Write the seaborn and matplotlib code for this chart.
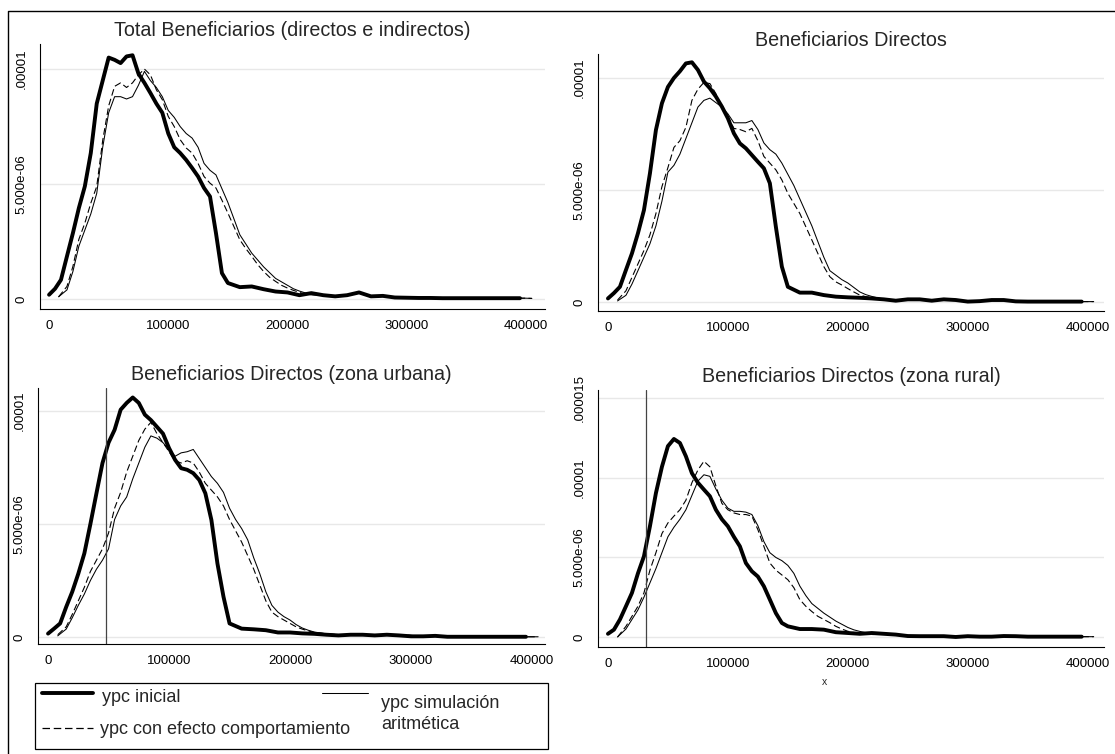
import numpy as np
import pandas as pd
import matplotlib
matplotlib.use("Agg")
import matplotlib.pyplot as plt
from matplotlib.lines import Line2D
from matplotlib.patches import Rectangle
import seaborn as sns

# ---------------- data (densities in units of 1e-6) ----------------
SCALE = 1e-6
X_INI = list(range(0, 150001, 5000)) + list(range(160000, 390001, 10000)) + [395000]
X_SIM = [8000] + list(range(15000, 220001, 5000)) + list(range(230000, 400001, 10000)) + [405000]

TITLES = ["Total Beneficiarios (directos e indirectos)",
          "Beneficiarios Directos",
          "Beneficiarios Directos (zona urbana)",
          "Beneficiarios Directos (zona rural)"]

# Panel 1: Total beneficiarios
p1_inicial = [0.19, 0.45, 0.84, 1.86, 2.87, 3.96, 4.9, 6.35, 8.5, 9.5, 10.5, 10.4, 10.26, 10.55, 10.6,
              9.8, 9.4, 8.96, 8.5, 8.1, 7.2, 6.6, 6.35, 6.05, 5.7, 5.33, 4.83, 4.46, 2.87, 1.13, 0.7,
              0.52, 0.55, 0.43, 0.33, 0.29, 0.17, 0.26, 0.17, 0.12, 0.17, 0.29, 0.12, 0.14, 0.07, 0.06,
              0.05, 0.05, 0.04, 0.04, 0.04, 0.04, 0.04, 0.04, 0.04, 0.04]
p1_comport = [0.1,
              0.55, 1.42, 2.6, 3.3, 4.17, 4.9, 6.9, 8.4, 9.25, 9.4, 9.2, 9.4, 9.75, 10.0, 9.75, 9.1, 8.67,
              7.94, 7.5, 6.93, 6.57, 6.35, 5.9, 5.33, 5.04, 4.83, 4.3, 3.74, 3.16, 2.58, 2.2, 1.86, 1.5,
              1.2, 0.95, 0.77, 0.6, 0.48, 0.38, 0.29, 0.22, 0.19,
              0.17, 0.12, 0.17, 0.29, 0.12, 0.14, 0.07, 0.06, 0.05, 0.05, 0.04, 0.04, 0.04, 0.04, 0.04,
              0.04, 0.04, 0.04, 0.03]
p1_simul = [0.1,
            0.4, 1.2, 2.3, 3.0, 3.7, 4.6, 6.6, 8.1, 8.8, 8.8, 8.7, 8.8, 9.3, 9.9, 9.5, 9.2, 8.8, 8.2,
            7.9, 7.5, 7.2, 7.0, 6.6, 5.9, 5.6, 5.4, 4.8, 4.2, 3.5, 2.8, 2.4, 2.0, 1.7, 1.4, 1.15, 0.9,
            0.75, 0.6, 0.45, 0.35, 0.27, 0.2,
            0.17, 0.12, 0.17, 0.29, 0.12, 0.14, 0.07, 0.06, 0.05, 0.05, 0.04, 0.04, 0.04, 0.04, 0.04,
            0.04, 0.04, 0.04, 0.03]

# Panel 2: Beneficiarios directos
p2_inicial = [0.16, 0.4, 0.68, 1.43, 2.17, 3.07, 4.1, 5.74, 7.68, 8.87, 9.6, 10.0, 10.3, 10.65, 10.7,
              10.36, 9.84, 9.54, 9.17, 8.72, 8.2, 7.53, 7.08, 6.86, 6.56, 6.26, 5.97, 5.3, 3.36, 1.58,
              0.68,
              0.42, 0.42, 0.31, 0.24, 0.21, 0.19, 0.16, 0.12, 0.06, 0.12, 0.12, 0.06, 0.12, 0.09, 0.02,
              0.04, 0.09, 0.09, 0.03, 0.02, 0.02, 0.02, 0.02, 0.02, 0.02]
p2_comport = [0.09,
              0.5, 1.1, 1.7, 2.3, 3.0, 3.95, 5.15, 6.0, 6.9, 7.2, 7.8, 9.0, 9.5, 9.8, 9.75, 9.3, 8.7,
              8.3, 7.75, 7.7, 7.6, 7.75, 7.2, 6.5, 6.2, 5.9, 5.45, 4.85, 4.4, 3.95, 3.36, 2.77, 2.17,
              1.58, 1.13, 0.9, 0.76, 0.6, 0.45, 0.31, 0.24, 0.19,
              0.12, 0.06, 0.12, 0.12, 0.06, 0.12, 0.09, 0.02, 0.04, 0.09, 0.09, 0.03, 0.02, 0.02, 0.02,
              0.02, 0.02, 0.02, 0.02]
p2_simul = [0.05,
            0.3, 0.8, 1.4, 2.0, 2.6, 3.4, 4.5, 5.8, 6.1, 6.6, 7.3, 8.0, 8.7, 9.0, 9.1, 8.9, 8.7, 8.4,
            8.0, 8.0, 8.0, 8.1, 7.7, 7.1, 6.8, 6.6, 6.2, 5.7, 5.2, 4.6, 4.0, 3.4, 2.7, 2.0, 1.4, 1.2,
            1.0, 0.85, 0.65, 0.45, 0.33, 0.25,
            0.12, 0.06, 0.12, 0.12, 0.06, 0.12, 0.09, 0.02, 0.04, 0.09, 0.09, 0.03, 0.02, 0.02, 0.02,
            0.02, 0.02, 0.02, 0.02]

# Panel 3: zona urbana
p3_inicial = [0.15, 0.37, 0.6, 1.33, 2.0, 2.8, 3.7, 5.0, 6.36, 7.7, 8.6, 9.17, 10.06, 10.36, 10.6,
              10.36, 9.84, 9.6, 9.3, 9.0, 8.36, 7.84, 7.47, 7.4, 7.25, 6.95, 6.36, 5.18, 3.25, 1.78, 0.6,
              0.37, 0.34, 0.3, 0.2, 0.2, 0.16, 0.14, 0.1, 0.07, 0.1, 0.1, 0.07, 0.1, 0.07, 0.03, 0.03,
              0.05, 0.01, 0.01, 0.01, 0.01, 0.01, 0.01, 0.01, 0.01]
p3_comport = [0.1,
              0.45, 1.0, 1.6, 2.2, 2.9, 3.4, 3.9, 4.6, 5.7, 6.4, 7.3, 8.0, 8.7, 9.2, 9.5, 9.0, 8.6, 8.2,
              7.8, 7.7, 7.8, 7.7, 7.3, 6.8, 6.5, 6.2, 5.8, 5.2, 4.7, 4.2, 3.6, 3.0, 2.3, 1.6, 1.1, 0.9,
              0.75, 0.6, 0.45, 0.35, 0.27, 0.2,
              0.14, 0.1, 0.07, 0.1, 0.1, 0.07, 0.1, 0.07, 0.03, 0.03, 0.05, 0.01, 0.01, 0.01, 0.01,
              0.01, 0.01, 0.01, 0.01]
p3_simul = [0.05,
            0.35, 0.85, 1.4, 1.9, 2.5, 3.0, 3.4, 3.9, 5.2, 5.8, 6.2, 7.0, 7.7, 8.4, 8.9, 8.8, 8.6, 8.3,
            8.0, 8.15, 8.2, 8.3, 7.9, 7.5, 7.1, 6.8, 6.4, 5.7, 5.2, 4.8, 4.3, 3.5, 2.8, 2.0, 1.4, 1.1,
            0.9, 0.75, 0.55, 0.4, 0.3, 0.22,
            0.14, 0.1, 0.07, 0.1, 0.1, 0.07, 0.1, 0.07, 0.03, 0.03, 0.05, 0.01, 0.01, 0.01, 0.01,
            0.01, 0.01, 0.01, 0.01]

# Panel 4: zona rural
p4_inicial = [0.2, 0.46, 1.1, 1.93, 2.77, 4.0, 5.07, 6.96, 9.05, 10.7, 12.0, 12.45, 12.2, 11.36, 10.3,
              9.7, 9.27, 8.85, 8.0, 7.4, 6.96, 6.3, 5.7, 4.65, 4.13, 3.8, 3.19, 2.35, 1.5, 0.88, 0.67,
              0.5, 0.5, 0.46, 0.3, 0.25, 0.2, 0.25, 0.2, 0.15, 0.06, 0.05, 0.05, 0.05, 0.0, 0.05, 0.02,
              0.02, 0.06, 0.05, 0.02, 0.02, 0.02, 0.02, 0.02, 0.02]
p4_comport = [0.0,
              0.67, 1.3, 1.93, 2.77, 4.2, 5.3, 6.5, 7.17, 7.6, 8.0, 8.6, 9.7, 10.5, 11.05, 10.7, 9.5,
              8.4, 8.0, 7.8, 7.7, 7.7, 7.6, 6.75, 5.7, 4.65, 4.2, 3.9, 3.6, 3.1, 2.35, 1.93, 1.6, 1.3,
              1.1, 0.9, 0.67, 0.5, 0.36, 0.28, 0.2, 0.17, 0.15,
              0.2, 0.15, 0.06, 0.05, 0.05, 0.05, 0.0, 0.05, 0.02, 0.02, 0.06, 0.05, 0.02, 0.02, 0.02,
              0.02, 0.02, 0.02, 0.02]
p4_simul = [0.0,
            0.5, 1.1, 1.7, 2.5, 3.4, 4.3, 5.3, 6.3, 6.9, 7.4, 8.0, 8.9, 9.8, 10.2, 10.1, 9.3, 8.6, 8.1,
            7.9, 7.9, 7.85, 7.7, 7.0, 6.0, 5.3, 5.0, 4.8, 4.5, 4.0, 3.2, 2.6, 2.1, 1.8, 1.5, 1.25, 1.0,
            0.8, 0.6, 0.45, 0.35, 0.27, 0.2,
            0.2, 0.15, 0.06, 0.05, 0.05, 0.05, 0.0, 0.05, 0.02, 0.02, 0.06, 0.05, 0.02, 0.02, 0.02,
            0.02, 0.02, 0.02, 0.02]

VLINES = [None, None, 48000, 32000]
X_TICKS = [0, 100000, 200000, 300000, 400000]
X_TICKLABELS = ["0", "100000", "200000", "300000", "400000"]
Y_TICKS = [0, 5e-6, 1e-5]
Y_TICKLABELS = ["0", "5.000e-06", ".00001"]
Y_TICKS_RURAL = [0, 5e-6, 1e-5, 1.5e-5]
Y_TICKLABELS_RURAL = ["0", "5.000e-06", ".00001", ".000015"]

LABEL_INI = "ypc inicial"
LABEL_COMP = "ypc con efecto comportamiento"
LABEL_SIM = "ypc simulación\naritmética"

# ---------------- style ----------------
sns.set_style("white")
plt.rcParams['font.family'] = ['Liberation Sans', 'DejaVu Sans']

W, H = 1115, 754
fig = plt.figure(figsize=(W / 100, H / 100), dpi=100)


def rect(l, r, t, b):
    return [l / W, 1 - b / H, (r - l) / W, (b - t) / H]


axes_rects = [rect(40, 545, 44, 309), rect(598, 1104, 54, 311),
              rect(38, 545, 388, 644), rect(598, 1104, 390, 647)]
xlims = [(-7600, 416000), (-8300, 413600), (-8300, 410700), (-8300, 413600)]
ylims = [(-0.43e-6, 1.109e-5), (-0.40e-6, 1.107e-5), (-0.31e-6, 1.102e-5), (-0.63e-6, 1.553e-5)]

series = [(p1_inicial, p1_comport, p1_simul), (p2_inicial, p2_comport, p2_simul),
          (p3_inicial, p3_comport, p3_simul), (p4_inicial, p4_comport, p4_simul)]

DASH = (0, (6, 3))

for i in range(4):
    ax = fig.add_axes(axes_rects[i])
    ini, comp, sim = series[i]
    d_ini = pd.DataFrame({"x": X_INI, "y": np.array(ini) * SCALE})
    d_comp = pd.DataFrame({"x": X_SIM, "y": np.array(comp) * SCALE})
    d_sim = pd.DataFrame({"x": X_SIM, "y": np.array(sim) * SCALE})
    sns.lineplot(data=d_sim, x="x", y="y", ax=ax, color="black", linewidth=0.75,
                 estimator=None, sort=False)
    sns.lineplot(data=d_comp, x="x", y="y", ax=ax, color="black", linewidth=0.8,
                 linestyle=DASH, estimator=None, sort=False)
    sns.lineplot(data=d_ini, x="x", y="y", ax=ax, color="black", linewidth=2.8,
                 estimator=None, sort=False)
    if VLINES[i] is not None:
        ax.axvline(VLINES[i], color="#444444", linewidth=0.9)
    ax.set_xlim(*xlims[i])
    ax.set_ylim(*ylims[i])
    ax.set_xticks(X_TICKS)
    ax.set_xticklabels(X_TICKLABELS)
    if i == 3:
        ax.set_yticks(Y_TICKS_RURAL)
        ax.set_yticklabels(Y_TICKLABELS_RURAL, rotation=90, va="center")
    else:
        ax.set_yticks(Y_TICKS)
        ax.set_yticklabels(Y_TICKLABELS, rotation=90, va="center")
    ax.tick_params(axis="both", direction="out", length=4.5, width=0.8, color="black",
                   labelsize=9.5, labelcolor="black")
    ax.tick_params(axis="x", pad=3.5)
    ax.tick_params(axis="y", pad=4.5)
    ax.yaxis.grid(True, color="#e8e8e8", linewidth=1.0)
    ax.xaxis.grid(False)
    ax.set_axisbelow(True)
    for s in ["top", "right"]:
        ax.spines[s].set_visible(False)
    for s in ["left", "bottom"]:
        ax.spines[s].set_color("black")
        ax.spines[s].set_linewidth(0.8)
    ax.set_title(TITLES[i], fontsize=14.2, pad=6)
    ax.set_ylabel("")
    if i == 3:
        ax.set_xlabel("x", fontsize=7.5, labelpad=0)
        ax.xaxis.set_label_coords((824 - 598) / 506, -0.115)
    else:
        ax.set_xlabel("")


# ---------------- legend (manual, Stata-like layout) ----------------
def fx(px):
    return px / W


def fy(py):
    return 1 - py / H


fig.patches.append(Rectangle((fx(35), fy(749)), fx(548) - fx(35), fy(683) - fy(749),
                             transform=fig.transFigure, fill=False, edgecolor="black",
                             linewidth=0.9))
fig.lines.append(Line2D([fx(42), fx(93)], [fy(693), fy(693)], transform=fig.transFigure,
                        color="black", linewidth=2.8))
fig.lines.append(Line2D([fx(42), fx(93)], [fy(728), fy(728)], transform=fig.transFigure,
                        color="black", linewidth=0.9, linestyle=DASH))
fig.lines.append(Line2D([fx(322), fx(368)], [fy(693), fy(693)], transform=fig.transFigure,
                        color="black", linewidth=0.75))
fig.text(fx(102), fy(697), LABEL_INI, fontsize=13, va="center", ha="left")
fig.text(fx(100), fy(729), LABEL_COMP, fontsize=13, va="center", ha="left")
fig.text(fx(381), fy(714), LABEL_SIM, fontsize=13, va="center", ha="left", linespacing=1.35)

# outer frame (left and top edges)
fig.lines.append(Line2D([fx(7.5), fx(7.5), fx(1115)], [fy(754), fy(11), fy(11)],
                        transform=fig.transFigure, color="black", linewidth=1.0))

fig.savefig("out.png", dpi=100)
